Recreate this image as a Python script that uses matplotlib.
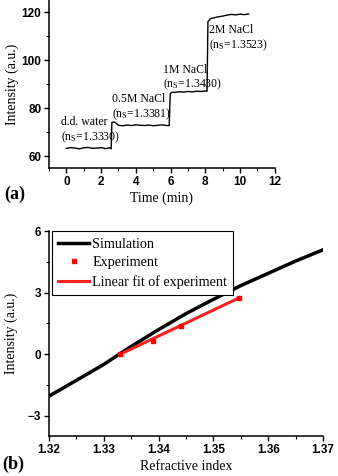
import matplotlib
matplotlib.use("Agg")
import matplotlib.pyplot as plt
from matplotlib.ticker import MultipleLocator
from matplotlib.font_manager import FontProperties

plt.rcParams['mathtext.fontset'] = 'custom'
plt.rcParams['mathtext.rm'] = 'Liberation Serif'
plt.rcParams['mathtext.it'] = 'Liberation Serif'
plt.rcParams['mathtext.bf'] = 'Liberation Serif:bold'

# ---- Panel (a) data ----
time_min = [0.0, 0.25, 0.5, 0.75, 1.0, 1.25, 1.5, 1.75, 2.0, 2.25, 2.5, 2.58,
            2.62, 2.75, 2.9, 3.0,
            3.25, 3.5, 3.75, 4.0, 4.25, 4.5, 4.75, 5.0, 5.25, 5.5, 5.75, 5.92,
            5.98, 6.1, 6.25, 6.5, 6.75, 7.0, 7.25, 7.5, 7.75, 8.0, 8.1,
            8.15, 8.3, 8.5, 8.75, 9.0, 9.25, 9.5, 9.75, 10.0, 10.25, 10.5]
intensity_a = [63.2, 63.5, 63.3, 63.0, 63.4, 63.6, 63.2, 63.3, 63.5, 63.1, 63.4, 63.0,
               74.0, 74.2, 73.5, 72.8,
               72.6, 72.9, 72.7, 73.0, 72.8, 72.7, 72.9, 72.6, 72.8, 73.0, 72.7, 72.7,
               86.0, 86.6, 86.5, 86.8, 86.6, 86.9, 86.7, 87.0, 86.9, 87.1, 87.0,
               116.0, 117.2, 117.6, 118.0, 118.3, 118.7, 119.0, 118.8, 119.1, 118.9, 119.2]
labels_a = ["d.d. water", "0.5M NaCl", "1M NaCl", "2M NaCl"]
ns_a = ["1.3330", "1.3381", "1.3430", "1.3523"]
label_pos_x = [-0.3, 2.63, 5.58, 8.23]
label_pos_y = [72.9, 82.5, 94.7, 111.1]

# ---- Panel (b) data ----
n_sim = [1.32, 1.325, 1.33, 1.335, 1.34, 1.345, 1.35, 1.355, 1.36, 1.365, 1.37]
I_sim = [-2.05, -1.28, -0.5, 0.38, 1.2, 1.98, 2.68, 3.35, 3.95, 4.55, 5.1]
n_exp = [1.3330, 1.3390, 1.3441, 1.3546]
I_exp = [0.0, 0.64, 1.39, 2.74]
n_fit = [1.3330, 1.3546]
I_fit = [0.0, 2.74]

tick_font = dict(family='Liberation Sans', weight='bold', size=8.5)
serif = 'Liberation Serif'

fig = plt.figure(figsize=(3.38, 4.76), dpi=100)

# Panel (a)
ax1 = fig.add_axes([0.145, 0.647, 0.668, 0.353])
ax1.plot(time_min, intensity_a, color='black', lw=1.0)
ax1.set_xlim(-1, 12)
ax1.set_ylim(55, 125)
ax1.xaxis.set_major_locator(MultipleLocator(2))
ax1.xaxis.set_minor_locator(MultipleLocator(1))
ax1.yaxis.set_major_locator(MultipleLocator(20))
ax1.yaxis.set_minor_locator(MultipleLocator(10))
ax1.set_yticks([60, 80, 100, 120])
for lab, ns, x, y in zip(labels_a, ns_a, label_pos_x, label_pos_y):
    ax1.text(x, y, lab, family=serif, fontsize=8.5, va='baseline', ha='left')
    ax1.text(x, y - 6.2, r'(n$_\mathrm{S}$=' + ns + ')', family=serif, fontsize=8.5,
             va='baseline', ha='left')
ax1.set_xlabel('Time (min)', family=serif, fontsize=10, labelpad=3)
ax1.set_ylabel('Intensity (a.u.)', family=serif, fontsize=10, labelpad=2)

# Panel (b)
ax2 = fig.add_axes([0.145, 0.084, 0.811, 0.43])
ax2.plot(n_sim, I_sim, color='black', lw=2.5, label='Simulation')
ax2.plot(n_exp, I_exp, 's', color='#ff0000', ms=3.5, label='Experiment', zorder=4)
ax2.plot(n_fit, I_fit, '-', color='#ff2020', lw=2.2, label='Linear fit of experiment', zorder=3)
ax2.set_xlim(1.32, 1.37)
ax2.set_ylim(-4, 6)
ax2.xaxis.set_minor_locator(MultipleLocator(0.005))
ax2.set_yticks([-3, 0, 3, 6])
ax2.yaxis.set_minor_locator(MultipleLocator(1.5))
ax2.set_xticks([1.32, 1.33, 1.34, 1.35, 1.36, 1.37])
ax2.set_xticklabels(['1.32', '1.33', '1.34', '1.35', '1.36', '1.37'])
ax2.set_xlabel('Refractive index', family=serif, fontsize=10, labelpad=3)
ax2.set_ylabel('Intensity (a.u.)', family=serif, fontsize=10, labelpad=7)
leg = ax2.legend(loc='upper left', bbox_to_anchor=(0.01, 1.0), prop=dict(family=serif, size=10.2),
                 frameon=True, fancybox=False, edgecolor='black', framealpha=1,
                 handlelength=2.2, handletextpad=0.2, borderpad=0.45, labelspacing=0.4,
                 borderaxespad=0.0)
leg.get_frame().set_linewidth(0.8)

for ax in (ax1, ax2):
    for s in ('top', 'right'):
        ax.spines[s].set_visible(False)
    for s in ('left', 'bottom'):
        ax.spines[s].set_linewidth(1.1)
    ax.tick_params(which='major', direction='out', length=3.5, width=1.0, pad=2)
    ax.tick_params(which='minor', direction='out', length=2, width=0.8)
    for t in ax.get_xticklabels() + ax.get_yticklabels():
        t.set_fontproperties(FontProperties(**tick_font))

fig.text(0.012, 0.582, '(a)', family=serif, weight='bold', fontsize=13)
fig.text(0.006, 0.014, '(b)', family=serif, weight='bold', fontsize=13)

fig.savefig('out.png', dpi=100)
